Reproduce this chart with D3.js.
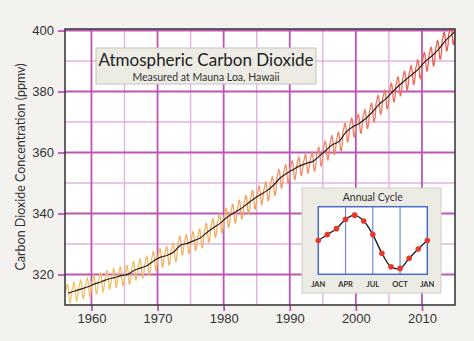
<!DOCTYPE html>
<html lang="en">
<head>
<meta charset="utf-8">
<title>Atmospheric Carbon Dioxide</title>
<script src="https://cdn.jsdelivr.net/npm/d3@7/dist/d3.min.js"></script>
<style>
  body { margin: 0; background: #f3f2ee; }
  svg { display: block; font-family: "Lato", "DejaVu Sans", sans-serif; }
</style>
</head>
<body>
<script>
// annual means, one per year starting 1956
var firstYear = 1956;
var annualMean = [
  313.9, 314.6, 315.3, 315.98, 316.91, 317.64, 318.45, 318.99, 319.62, 320.04,
  321.38, 322.16, 323.04, 324.62, 325.68, 326.32, 327.45, 329.68, 330.19, 331.12,
  332.03, 333.84, 335.41, 336.84, 338.75, 340.11, 341.45, 343.05, 344.65, 346.12,
  347.42, 349.19, 351.57, 353.12, 354.39, 355.61, 356.45, 357.10, 358.83, 360.82,
  362.61, 363.73, 366.70, 368.38, 369.55, 371.14, 373.28, 375.80, 377.52, 379.80,
  381.90, 383.79, 385.60, 387.43, 389.90, 391.65, 393.85, 396.52, 398.65, 400.83
];
// annual cycle (ppm from the yearly mean), Jan..Jan
var cycleMonths = ["JAN","FEB","MAR","APR","MAY","JUN","JUL","AUG","SEP","OCT","NOV","DEC","JAN"];
var cycleValues = [0, 0.7, 1.4, 2.5, 3.0, 2.3, 0.7, -1.5, -3.1, -3.3, -2.1, -1.0, 0];
var cycleLabels = ["JAN","APR","JUL","OCT","JAN"];

var yearTicks = [1960, 1970, 1980, 1990, 2000, 2010];
var yearMinor = [1965, 1975, 1985, 1995, 2005];
var ppmTicks = [320, 340, 360, 380, 400];
var ppmMinor = [330, 350, 370, 390];

var w = 474, h = 341;
var plot = { left: 65, right: 455, top: 29, bottom: 305 };

var svg = d3.select("body").append("svg").attr("width", w).attr("height", h);

var x = d3.scaleLinear().domain([1956, 2015]).range([plot.left, plot.right]);
var y = d3.scaleLinear().domain([310, 400.5]).range([plot.bottom, plot.top]);

svg.append("rect").attr("width", w).attr("height", h).attr("fill", "#f3f2ee");
svg.append("rect")
  .attr("x", plot.left).attr("y", plot.top)
  .attr("width", plot.right - plot.left).attr("height", plot.bottom - plot.top)
  .attr("fill", "#fff");

// grid
var minorCol = "#e2b2df", majorCol = "#bd55b8";
svg.selectAll(".vminor").data(yearMinor).enter().append("line")
  .attr("x1", x).attr("x2", x).attr("y1", plot.top).attr("y2", plot.bottom)
  .attr("stroke", minorCol).attr("stroke-width", 1.4);
svg.selectAll(".hminor").data(ppmMinor).enter().append("line")
  .attr("y1", y).attr("y2", y).attr("x1", plot.left).attr("x2", plot.right)
  .attr("stroke", minorCol).attr("stroke-width", 1.4);
svg.selectAll(".vmajor").data(yearTicks).enter().append("line")
  .attr("x1", x).attr("x2", x).attr("y1", plot.top).attr("y2", plot.bottom)
  .attr("stroke", majorCol).attr("stroke-width", 1.8);
svg.selectAll(".hmajor").data(ppmTicks).enter().append("line")
  .attr("y1", y).attr("y2", y).attr("x1", plot.left).attr("x2", plot.right)
  .attr("stroke", majorCol).attr("stroke-width", 1.8);

// axes
var xAxis = svg.append("g").attr("transform", "translate(0," + plot.bottom + ")")
  .call(d3.axisBottom(x).tickValues(yearTicks).tickFormat(d3.format("d"))
    .tickSize(6).tickPadding(3).tickSizeOuter(0));
var yAxis = svg.append("g").attr("transform", "translate(" + plot.left + ",0)")
  .call(d3.axisLeft(y).tickValues(ppmTicks).tickSize(7).tickPadding(4).tickSizeOuter(0));
[xAxis, yAxis].forEach(function(g) {
  g.select(".domain").remove();
  g.selectAll("line").attr("stroke", majorCol).attr("stroke-width", 1.8);
  g.selectAll("text").attr("fill", "#333").style("font-size", "13px");
});

svg.append("text")
  .attr("transform", "translate(20," + ((plot.top + plot.bottom) / 2) + ") rotate(-90)")
  .attr("text-anchor", "middle").attr("dominant-baseline", "central")
  .attr("fill", "#333").style("font-size", "12.5px")
  .text("Carbon Dioxide Concentration (ppmv)");

// data curves
svg.append("clipPath").attr("id", "clip").append("rect")
  .attr("x", plot.left).attr("y", plot.top)
  .attr("width", plot.right - plot.left).attr("height", plot.bottom - plot.top);

var grad = svg.append("linearGradient").attr("id", "seasonal")
  .attr("gradientUnits", "userSpaceOnUse")
  .attr("x1", plot.left).attr("x2", plot.right).attr("y1", 0).attr("y2", 0);
[[0, "#efc66e"], [0.4, "#f2ae5e"], [0.65, "#f08a68"], [1, "#ec5a50"]].forEach(function(s) {
  grad.append("stop").attr("offset", s[0]).attr("stop-color", s[1]);
});

var monthly = [];
annualMean.forEach(function(v, i) {
  for (var m = 0; m < 12; m++) {
    monthly.push({ t: firstYear + i + (m + 0.5) / 12, v: v + cycleValues[m] });
  }
});
var annual = annualMean.map(function(v, i) { return { t: firstYear + i + 0.5, v: v }; });

var g = svg.append("g").attr("clip-path", "url(#clip)");
g.append("path").datum(monthly)
  .attr("fill", "none").attr("stroke", "url(#seasonal)").attr("stroke-width", 1.3)
  .attr("d", d3.line().x(function(d) { return x(d.t); }).y(function(d) { return y(d.v); })
    .curve(d3.curveMonotoneX));
g.append("path").datum(annual)
  .attr("fill", "none").attr("stroke", "#2a1d1a").attr("stroke-width", 1.2)
  .attr("d", d3.line().x(function(d) { return x(d.t); }).y(function(d) { return y(d.v); })
    .curve(d3.curveMonotoneX));

svg.append("rect")
  .attr("x", plot.left).attr("y", plot.top)
  .attr("width", plot.right - plot.left).attr("height", plot.bottom - plot.top)
  .attr("fill", "none").attr("stroke", "#3c3c3c").attr("stroke-width", 1.6);

// title box
svg.append("rect").attr("x", 96).attr("y", 48).attr("width", 220).attr("height", 36)
  .attr("fill", "#ecebe4").attr("stroke", "#c4c3bb").attr("stroke-width", 1);
svg.append("text").attr("x", 206).attr("y", 66).attr("text-anchor", "middle")
  .attr("fill", "#222").style("font-size", "17px").text("Atmospheric Carbon Dioxide");
svg.append("text").attr("x", 206).attr("y", 80.5).attr("text-anchor", "middle")
  .attr("fill", "#333").style("font-size", "10.5px").text("Measured at Mauna Loa, Hawaii");

// inset: annual cycle
var inset = { left: 318.3, right: 427.3, top: 206.7, bottom: 274.3 };
svg.append("rect").attr("x", 302).attr("y", 188).attr("width", 139).attr("height", 105)
  .attr("fill", "#ecebe4").attr("stroke", "#cfcec6").attr("stroke-width", 1);
svg.append("text").attr("x", (inset.left + inset.right) / 2).attr("y", 200.5)
  .attr("text-anchor", "middle").attr("fill", "#333").style("font-size", "10.5px")
  .text("Annual Cycle");

var ix = d3.scaleLinear().domain([0, 12]).range([inset.left, inset.right]);
var iy = d3.scaleLinear().domain([-4, 4]).range([inset.bottom, inset.top]);

svg.append("rect").attr("x", inset.left).attr("y", inset.top)
  .attr("width", inset.right - inset.left).attr("height", inset.bottom - inset.top)
  .attr("fill", "#fff");
svg.selectAll(".iv").data([3, 6, 9]).enter().append("line")
  .attr("x1", ix).attr("x2", ix).attr("y1", inset.top).attr("y2", inset.bottom)
  .attr("stroke", "#6f8bd2").attr("stroke-width", 1.2);
svg.append("rect").attr("x", inset.left).attr("y", inset.top)
  .attr("width", inset.right - inset.left).attr("height", inset.bottom - inset.top)
  .attr("fill", "none").attr("stroke", "#4a6cc6").attr("stroke-width", 1.5);

svg.selectAll(".ilab").data(cycleLabels).enter().append("text")
  .attr("x", function(d, i) { return ix(i * 3); }).attr("y", 287)
  .attr("text-anchor", "middle").attr("fill", "#333")
  .style("font-size", "7.5px").style("font-weight", "bold")
  .text(function(d) { return d; });

svg.append("path").datum(cycleValues)
  .attr("fill", "none").attr("stroke", "#222").attr("stroke-width", 1.4)
  .attr("d", d3.line().x(function(d, i) { return ix(i); }).y(function(d) { return iy(d); })
    .curve(d3.curveCatmullRom));
svg.selectAll(".dot").data(cycleValues).enter().append("circle")
  .attr("cx", function(d, i) { return ix(i); }).attr("cy", function(d) { return iy(d); })
  .attr("r", 2.8).attr("fill", "#e8382c");
</script>
</body>
</html>
